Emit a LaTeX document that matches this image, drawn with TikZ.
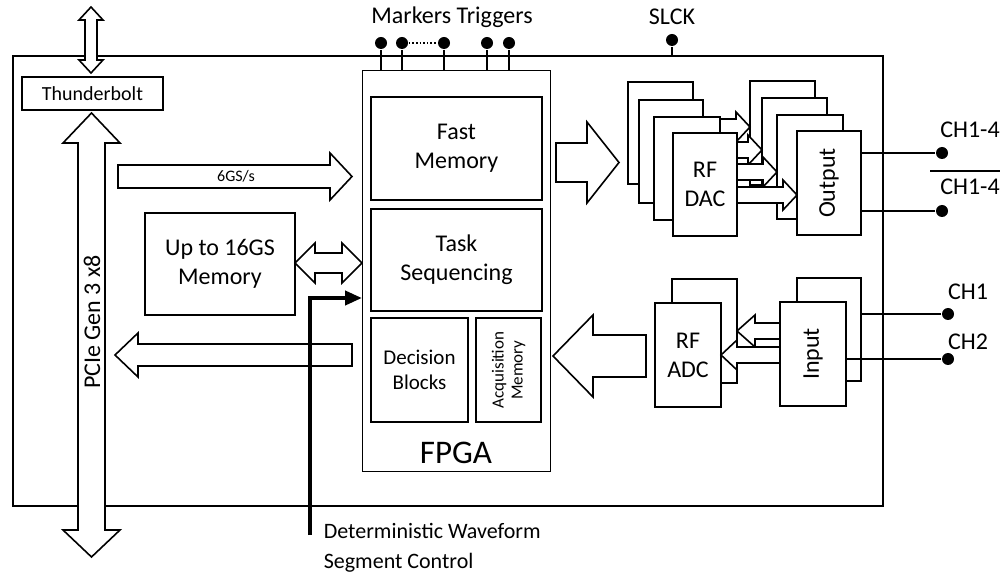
\documentclass[tikz,border=0pt]{standalone}
\usepackage{fontspec}
\setmainfont{Carlito}
\usetikzlibrary{arrows.meta}
\begin{document}
\begin{tikzpicture}[x=1pt, y=-1pt, line width=1.6pt,
    box/.style={draw, fill=white, inner sep=0pt, align=center},
    blk/.style={draw, fill=white},
    lbl/.style={font=\fontsize{24}{29}\selectfont, align=center},
    pin/.style={circle, fill=black, inner sep=0pt, minimum size=12pt}]
    \useasboundingbox (0,0) rectangle (1002,577);

    % Plate
    \node[box, fill=none, minimum width=870pt, minimum height=450pt] (card) at (448,281) {};

    % Thunderbolt and PCIe
    \node[box, minimum width=141pt, minimum height=33pt, font=\fontsize{20}{24}\selectfont] (tb) at (92.5,93.5) {Thunderbolt};
    \draw[blk] (91,7) -- (103,20) -- (97,20) -- (97,60) -- (103,60) -- (91,73) -- (79,60) -- (85,60) -- (85,20) -- (79,20) -- cycle;
    \draw[blk] (91.5,113) -- (120,143) -- (105,143) -- (105,530) -- (120,530) -- (91.5,557) -- (63,530) -- (78,530) -- (78,143) -- (63,143) -- cycle;
    \node[lbl, rotate=90] (pcie) at (92,322) {PCIe Gen 3 x8};

    % 6GS/s
    \draw[blk] (118,165) -- (330,165) -- (330,153) -- (352,176.5) -- (330,200) -- (330,188) -- (118,188) -- cycle;
    \node[font=\fontsize{16}{19}\selectfont] (rate) at (236,176.5) {6GS/s};

    % Memory
    \node[box, lbl, minimum width=150pt, minimum height=102pt] (mem) at (220,264) {Up to 16GS\\Memory};
    \draw[blk] (295,263) -- (315,243) -- (315,253) -- (342,253) -- (342,243) -- (362,263) -- (342,283) -- (342,273) -- (315,273) -- (315,283) -- cycle;

    % Back to PCIe
    \draw[blk] (352,344) -- (138,344) -- (138,333) -- (115,355) -- (138,377) -- (138,366) -- (352,366) -- cycle;

    % FPGA
    \node[box, minimum width=188pt, minimum height=401pt] (fpga) at (456.5,271) {};
    \node[box, lbl, minimum width=171pt, minimum height=103pt] (fast) at (456.5,148.5) {Fast\\Memory};
    \node[box, lbl, minimum width=171pt, minimum height=102pt] (task) at (456.5,260) {Task\\Sequencing};
    \node[box, minimum width=97pt, minimum height=104pt, font=\fontsize{21}{25}\selectfont] (dec) at (419.5,370) {Decision\\Blocks};
    \node[box, minimum width=65pt, minimum height=104pt] (acq) at (508.5,370) {};
    \node[rotate=90, align=center, font=\fontsize{17}{19}\selectfont] (acqTxt) at (acq) {Acquisition\\Memory};
    \node[font=\fontsize{33}{38}\selectfont] (fpgaTxt) at (456,453) {FPGA};

    % Markers and triggers
    \node[lbl] (mt) at (452,17) {Markers Triggers};
    \node[pin] (m1) at (381,43) {};
    \node[pin] (m2) at (402,43) {};
    \node[pin] (m3) at (444,43) {};
    \node[pin] (t1) at (487,43) {};
    \node[pin] (t2) at (509,43) {};
    \foreach \p in {m1,m2,m3,t1,t2}
        \draw (\p) -- (\p |- fpga.north);
    \draw[dotted] (m2) -- (m3);
    \node[lbl] (slckTxt) at (672,17) {SLCK};
    \node[pin] (slck) at (672,40) {};
    \draw (slck) -- (slck |- card.north);

    % Deterministic control
    \coordinate (dwsc) at (310,535);
    \coordinate (ctrlIn) at (362,298);
    \draw[line width=4pt, -{Triangle[length=17pt,width=14pt]}] (dwsc) |- (ctrlIn);
    \node[anchor=west, align=left, inner sep=0pt, font=\fontsize{22}{30}\selectfont] (dwscTxt) at (323,548) {Deterministic Waveform\\Segment Control};

    % To DAC
    \draw[blk] (556,143) -- (587,143) -- (587,122) -- (619,162.5) -- (587,203) -- (587,182) -- (556,182) -- cycle;

    % DAC and output stacks
    \node[box, minimum width=65pt, minimum height=102pt] (dac1) at (660.5,133) {};
    \node[box, minimum width=65pt, minimum height=104pt] (out1) at (782.5,133) {};
    \draw[blk] (693,119) -- (736,119) -- (736,112) -- (750,127) -- (736,142) -- (736,135) -- (693,135) -- cycle;
    \node[box, minimum width=64pt, minimum height=103pt] (dac2) at (671,151.5) {};
    \node[box, minimum width=65pt, minimum height=104pt] (out2) at (794.5,150) {};
    \draw[blk] (703,142) -- (748,142) -- (748,135) -- (762,150) -- (748,165) -- (748,158) -- (703,158) -- cycle;
    \node[box, minimum width=66pt, minimum height=103pt] (dac3) at (687,168.5) {};
    \node[box, minimum width=66pt, minimum height=104pt] (out3) at (810,167) {};
    \draw[blk] (720,164) -- (763,164) -- (763,157) -- (777,172) -- (763,187) -- (763,180) -- (720,180) -- cycle;
    \node[box, lbl, minimum width=64pt, minimum height=103pt] (dac4) at (705,184.5) {RF\\DAC};
    \draw[blk] (737,187) -- (783,187) -- (783,180) -- (797,195) -- (783,210) -- (783,203) -- (737,203) -- cycle;
    \node[box, minimum width=64pt, minimum height=104pt] (out4) at (829,183) {};
    \node[lbl, rotate=90] (outTxt) at (out4) {Output};

    % Outputs
    \node[pin] (chA) at (942,153) {};
    \node[pin] (chB) at (942,211) {};
    \draw (chA) -- (chA -| out4.east);
    \draw (chB) -- (chB -| out4.east);
    \node[lbl] (chAtxt) at (970,130) {CH1-4};
    \node[lbl] (chBtxt) at (970,187) {CH1-4};
    \draw (930,171) -- (1000,171);

    % From ADC
    \draw[blk] (646,335) -- (593,335) -- (593,315) -- (553,356) -- (593,397) -- (593,377) -- (646,377) -- cycle;

    % ADC and input stacks
    \node[box, minimum width=65pt, minimum height=104pt] (adc1) at (704.5,331) {};
    \node[box, minimum width=64pt, minimum height=103pt] (in1) at (829,329.5) {};
    \draw[blk] (780,323) -- (755,323) -- (755,315) -- (737,331) -- (755,347) -- (755,339) -- (780,339) -- cycle;
    \node[box, lbl, minimum width=66pt, minimum height=104pt] (adc2) at (688,355) {RF\\ADC};
    \draw[blk] (780,347) -- (737,347) -- (737,340) -- (721,355) -- (737,370) -- (737,363) -- (780,363) -- cycle;
    \node[box, minimum width=66pt, minimum height=104pt] (in2) at (813,354) {};
    \node[lbl, rotate=90] (inTxt) at (in2) {Input};

    % Inputs
    \node[pin] (ch1) at (948,314) {};
    \node[pin] (ch2) at (948,359) {};
    \draw (ch1) -- (ch1 -| in1.east);
    \draw (ch2) -- (ch2 -| in2.east);
    \node[lbl] (ch1txt) at (968,292) {CH1};
    \node[lbl] (ch2txt) at (968,342) {CH2};
\end{tikzpicture}
\end{document}
